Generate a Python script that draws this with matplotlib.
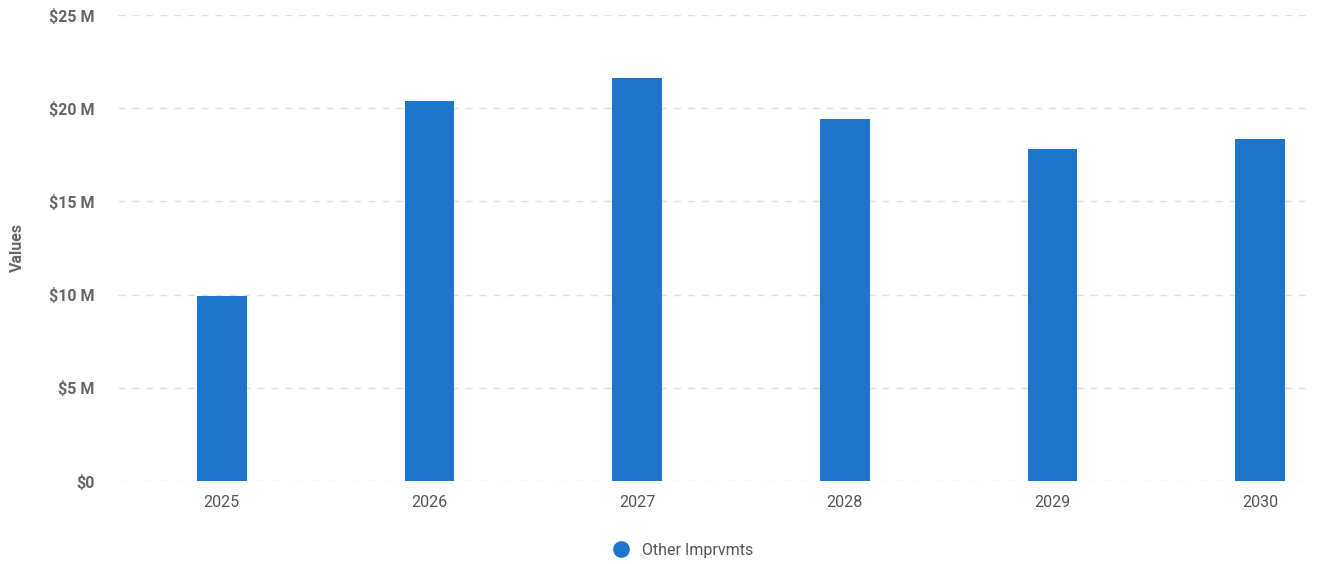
import numpy as np
import matplotlib.pyplot as plt
from matplotlib.ticker import FuncFormatter
from matplotlib.lines import Line2D

plt.rcParams['font.family'] = ['Roboto', 'DejaVu Sans']

years = ["2025", "2026", "2027", "2028", "2029", "2030"]
values = [9.95, 20.4, 21.6, 19.4, 17.8, 18.35]  # $ millions
series_name = "Other Imprvmts"
bar_color = "#1f75cc"

fig = plt.figure(figsize=(13.31, 5.64), dpi=100)
ax_left, ax_w = 118 / 1331, (1310 - 118) / 1331
ax = fig.add_axes([ax_left, 1 - 481 / 564, ax_w, (481 - 15) / 564])

x = np.arange(len(years))
ax.bar(x, values, width=0.24, color=bar_color, zorder=3)

ax.set_ylim(0, 25)
ax.set_xlim(-0.5, 5.24)
ax.set_yticks([0, 5, 10, 15, 20, 25])
ax.yaxis.set_major_formatter(FuncFormatter(lambda v, p: "$0" if v == 0 else f"${v:.0f} M"))
ax.set_xticks(x)
ax.set_xticklabels(years)

ax.grid(axis='y', color='#dde0e6', linestyle=(0, (5, 5)), linewidth=1, zorder=0)
for s in ax.spines.values():
    s.set_visible(False)
ax.tick_params(axis='both', length=0)
ax.tick_params(axis='y', pad=17, labelsize=11.5, labelcolor='#666666')
ax.tick_params(axis='x', pad=10, labelsize=11.5, labelcolor='#555555')
for t in ax.get_yticklabels():
    t.set_fontweight('bold')

ax.set_ylabel("Values", fontsize=11.5, color='#666666', fontweight='bold')
# put the label centre at ~25 px from the left edge
ax.yaxis.set_label_coords((25 / 1331 - ax_left) / ax_w, 0.5)

handle = Line2D([], [], marker='o', linestyle='none', markersize=11,
                markerfacecolor=bar_color, markeredgecolor=bar_color)
fig.legend([handle], [series_name], loc='center', bbox_to_anchor=(679 / 1331, 1 - 550 / 564),
           frameon=False, fontsize=11.5, labelcolor='#555555', handletextpad=0.3)

fig.savefig("out.png", dpi=100, facecolor='white')
